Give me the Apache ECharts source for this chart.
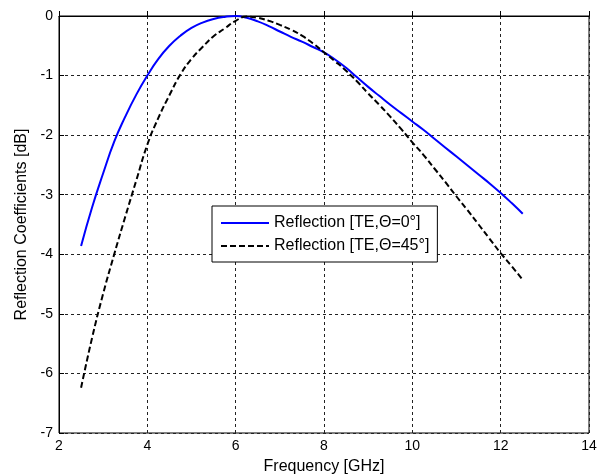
<!DOCTYPE html>
<html>
<head>
<meta charset="utf-8">
<script src="https://cdn.jsdelivr.net/npm/echarts@6/dist/echarts.min.js"></script>
<style>
  html, body { margin: 0; padding: 0; background: #fff; }
  #chart { width: 600px; height: 476px; }
</style>
</head>
<body>
<div id="chart"></div>
<script>
// frequency points [GHz], step 0.25
const freq = [2.5, 2.75, 3, 3.25, 3.5, 3.75, 4, 4.25, 4.5, 4.75, 5, 5.25, 5.5, 5.75, 6, 6.25, 6.5,
  6.75, 7, 7.25, 7.5, 7.75, 8, 8.25, 8.5, 8.75, 9, 9.25, 9.5, 9.75, 10, 10.25, 10.5, 10.75,
  11, 11.25, 11.5, 11.75, 12, 12.25, 12.5];
// reflection TE, theta = 0 deg [dB]
const te0 = [-3.86, -3.21, -2.64, -2.11, -1.69, -1.32, -1.0, -0.72, -0.5, -0.33, -0.2, -0.11, -0.05, -0.015, 0, -0.03, -0.09,
  -0.17, -0.26, -0.35, -0.43, -0.52, -0.61, -0.73, -0.87, -1.03, -1.19, -1.34, -1.49, -1.63, -1.77, -1.91, -2.06, -2.21,
  -2.36, -2.51, -2.66, -2.81, -2.97, -3.14, -3.32];
// reflection TE, theta = 45 deg [dB]
const te45 = [-6.24, -5.4, -4.66, -4.0, -3.37, -2.76, -2.16, -1.71, -1.33, -0.98, -0.72, -0.52, -0.34, -0.21, -0.08, -0.01, -0.03,
  -0.08, -0.15, -0.23, -0.33, -0.46, -0.61, -0.76, -0.92, -1.1, -1.3, -1.49, -1.69, -1.9, -2.12, -2.33, -2.56, -2.79,
  -3.03, -3.26, -3.5, -3.74, -3.98, -4.2, -4.43];
const xTicks = [2, 4, 6, 8, 10, 12, 14];
const yTicks = [0, -1, -2, -3, -4, -5, -6, -7];

const pair = (xs, ys) => xs.map((x, i) => [x, ys[i]]);
const font = 'Liberation Sans, Arial, sans-serif';

var myChart = echarts.init(document.getElementById('chart'));
var option = {
  animation: false,
  grid: {
    left: 59, right: 11, top: 16, bottom: 43,
    outerBoundsMode: 'none',
    show: true, borderColor: '#000', borderWidth: 1
  },
  legend: {
    orient: 'vertical',
    left: 212, top: 206,
    padding: [9, 8, 8, 8],
    itemGap: 7,
    itemWidth: 48, itemHeight: 16,
    backgroundColor: '#fff',
    borderColor: '#000', borderWidth: 1,
    itemStyle: { opacity: 0 },
    textStyle: { fontFamily: font, fontSize: 16, color: '#000' },
    data: ['Reflection [TE,\u0398=0\u00b0]', 'Reflection [TE,\u0398=45\u00b0]']
  },
  xAxis: {
    type: 'value', min: 2, max: 14, interval: 2,
    name: 'Frequency [GHz]', nameLocation: 'middle', nameGap: 26,
    nameTextStyle: { fontFamily: font, fontSize: 16, color: '#000' },
    axisLine: { lineStyle: { color: '#000' } },
    axisTick: { inside: true, length: 5, lineStyle: { color: '#000' } },
    axisLabel: { fontFamily: font, fontSize: 14, color: '#000', margin: 6,
      formatter: v => xTicks.includes(v) ? String(v) : '' },
    splitLine: { show: true, lineStyle: { color: '#222', type: [3, 3], width: 1 } }
  },
  yAxis: {
    type: 'value', min: -7, max: 0, interval: 1,
    name: 'Reflection Coefficients [dB]', nameLocation: 'middle', nameGap: 29,
    nameTextStyle: { fontFamily: font, fontSize: 16, color: '#000' },
    axisLine: { show: true, lineStyle: { color: '#000' } },
    axisTick: { show: true, inside: true, length: 5, lineStyle: { color: '#000' } },
    axisLabel: { fontFamily: font, fontSize: 14, color: '#000', margin: 6,
      formatter: v => yTicks.includes(v) ? String(v) : '' },
    splitLine: { show: true, lineStyle: { color: '#222', type: [3, 3], width: 1 } }
  },
  series: [
    {
      name: 'Reflection [TE,\u0398=0\u00b0]',
      type: 'line', smooth: true, symbol: 'none',
      lineStyle: { color: '#0000ff', width: 2 },
      itemStyle: { color: '#0000ff' },
      data: pair(freq, te0)
    },
    {
      name: 'Reflection [TE,\u0398=45\u00b0]',
      type: 'line', smooth: true, symbol: 'none',
      lineStyle: { color: '#000', width: 2, type: [6, 3] },
      itemStyle: { color: '#000' },
      data: pair(freq, te45)
    }
  ]
};
myChart.setOption(option);
</script>
</body>
</html>
